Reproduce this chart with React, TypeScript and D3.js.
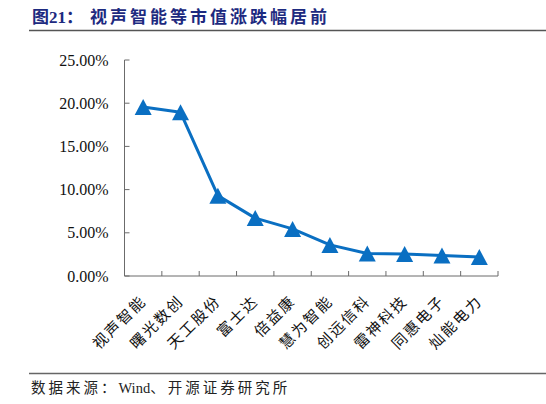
import * as d3 from "d3";

const W = 546;
const H = 404;

const companies = [
  "视声智能",
  "曙光数创",
  "天工股份",
  "富士达",
  "倍益康",
  "慧为智能",
  "创远信科",
  "雷神科技",
  "同惠电子",
  "灿能电力",
];
const changes = [19.55, 18.95, 9.3, 6.7, 5.45, 3.6, 2.6, 2.55, 2.38, 2.2];
const yTicks = [0, 5, 10, 15, 20, 25];

const BLUE = "#0a6fc2";
const AXIS = "#6b6b6b";
const SERIF = "'Liberation Serif', 'Noto Sans CJK SC', serif";

export default function App() {
  const margin = { top: 60, right: 48, bottom: 128, left: 124.5 };
  const w = W - margin.left - margin.right;
  const h = H - margin.top - margin.bottom;

  const x = d3.scaleBand<string>().domain(companies).range([0, w]);
  const y = d3.scaleLinear().domain([0, 25]).range([h, 0]);

  const line = d3
    .line<number>()
    .x((_, i) => x(companies[i])! + x.bandwidth() / 2)
    .y((d) => y(d));

  // triangle marker, bounding box centred on the point
  const tri = (cx: number, cy: number) =>
    `M${cx},${cy - 8}L${cx + 8.5},${cy + 8}L${cx - 8.5},${cy + 8}Z`;

  const bandEdges = companies.map((c) => x(c)!).concat([w]);

  return (
    <svg
      width={W}
      height={H}
      viewBox={`0 0 ${W} ${H}`}
      style={{ position: "absolute", left: 0, top: 0, background: "#fff" }}
    >
      {/* Title */}
      <text
        x={32}
        y={23}
        fill="#1d2a80"
        style={{ fontFamily: SERIF, fontSize: 17, fontWeight: 700 }}
      >
        <tspan>图21：</tspan>
        <tspan x={90} style={{ letterSpacing: 3 }}>
          视声智能等市值涨跌幅居前
        </tspan>
      </text>
      <line x1={29} x2={W} y1={30.5} y2={30.5} stroke="#555" strokeWidth={1.5} />

      <g transform={`translate(${margin.left},${margin.top})`}>
        {/* Y axis */}
        <line x1={0} x2={0} y1={0} y2={h} stroke={AXIS} strokeWidth={1} />
        {yTicks.map((t) => (
          <g key={t} transform={`translate(0,${y(t)})`}>
            <line x1={0} x2={5} stroke={AXIS} />
            <text
              x={-16}
              dy="0.35em"
              textAnchor="end"
              fill="#111"
              style={{ fontFamily: SERIF, fontSize: 16 }}
            >
              {t.toFixed(2)}%
            </text>
          </g>
        ))}

        {/* X axis */}
        <line x1={0} x2={w} y1={h} y2={h} stroke={AXIS} strokeWidth={1} />
        {bandEdges.map((bx, i) => (
          <line key={i} x1={bx} x2={bx} y1={h} y2={h - 5} stroke={AXIS} />
        ))}
        {companies.map((c) => {
          const cx = x(c)! + x.bandwidth() / 2 + 4;
          const cy = h + 26;
          return (
            <text
              key={c}
              x={cx}
              y={cy}
              transform={`rotate(-45,${cx},${cy})`}
              textAnchor="end"
              fill="#111"
              style={{ fontFamily: SERIF, fontSize: 15, letterSpacing: 2 }}
            >
              {c}
            </text>
          );
        })}

        {/* Series */}
        <path d={line(changes)!} fill="none" stroke={BLUE} strokeWidth={3} strokeLinejoin="round" />
        {changes.map((v, i) => (
          <path
            key={companies[i]}
            d={tri(x(companies[i])! + x.bandwidth() / 2, y(v))}
            fill={BLUE}
          />
        ))}
      </g>

      {/* Source */}
      <line x1={29} x2={W} y1={373.5} y2={373.5} stroke="#666" strokeWidth={1.5} />
      <text x={31} y={393} fill="#222" style={{ fontFamily: SERIF, fontSize: 14.5 }}>
        <tspan style={{ letterSpacing: 3 }}>数据来源：</tspan>
        <tspan>Wind</tspan>
        <tspan style={{ letterSpacing: 3 }}>、开源证券研究所</tspan>
      </text>
    </svg>
  );
}
